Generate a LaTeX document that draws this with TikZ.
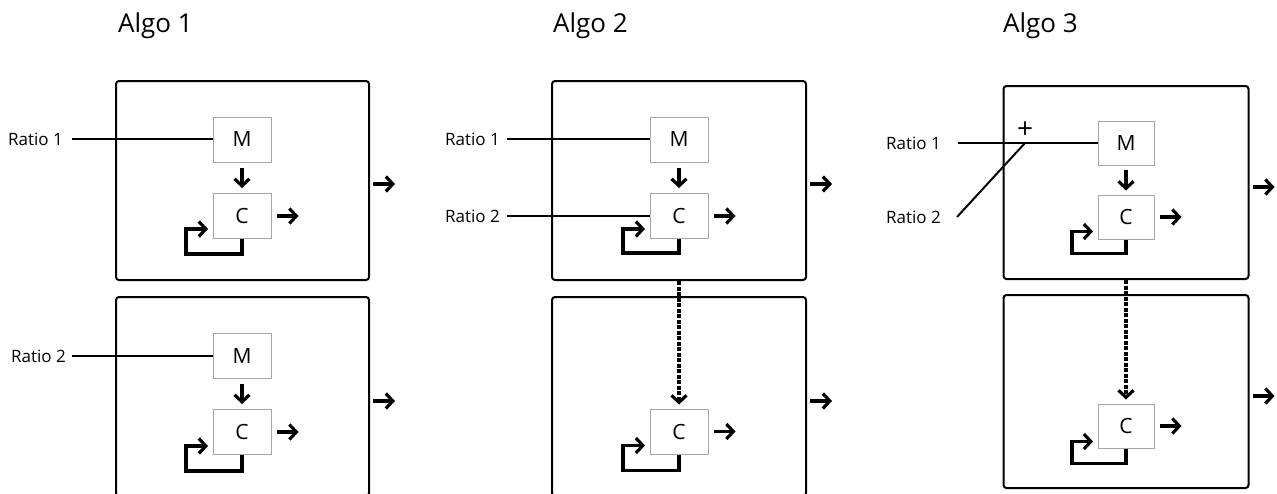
\documentclass[tikz,border=0pt]{standalone}
\usepackage{fontspec}
\setmainfont{Open Sans}
\usetikzlibrary{arrows.meta}

\tikzset{
  panel/.style={draw, line width=2pt, rounded corners=3pt, minimum width=253pt, minimum height=199pt, inner sep=0pt},
  blk/.style={draw=black!35, fill=white, line width=1pt, minimum width=58pt, minimum height=45pt, inner sep=0pt, font=\fontsize{21}{24}\selectfont},
  lbl/.style={inner sep=0pt, font=\fontsize{17}{20}\selectfont},
  ttl/.style={inner sep=0pt, font=\fontsize{26}{30}\selectfont},
  feed/.style={line width=2pt},
  flow/.style={-{Straight Barb[length=7pt,width=15pt,line width=3.2pt]}, line width=3.2pt},
  back/.style={-{Straight Barb[length=7pt,width=15pt,line width=3.2pt]}, line width=3.8pt},
  pass/.style={-{Straight Barb[length=7pt,width=15pt,line width=3.2pt]}, line width=3.4pt, dash pattern=on 4pt off 1.5pt},
}

\begin{document}
\begin{tikzpicture}[x=1pt,y=-1pt]
\useasboundingbox (0,0) rectangle (1277,493);
\clip (0,0) rectangle (1277,493);

\node[ttl, anchor=base west] (t1) at (118,32) {Algo 1};
\node[ttl, anchor=base west] (t2) at (553,32) {Algo 2};
\node[ttl, anchor=base west] (t3) at (1003,32) {Algo 3};

% Algo 1
\node[panel] (p1a) at (242.5,180.5) {};
\node[panel] (p1b) at (242.5,396.5) {};
\node[blk] (m1a) at (242,139.5) {M};
\node[blk] (c1a) at (242,216) {C};
\node[blk] (m1b) at (242,356) {M};
\node[blk] (c1b) at (242,432) {C};
\node[lbl, anchor=east] (r1a) at (63,139) {Ratio 1};
\node[lbl, anchor=east] (r1b) at (66,356) {Ratio 2};
\draw[feed, shorten <=9pt] (r1a.east) -- (r1a.east -| m1a.west);
\draw[feed, shorten <=6pt] (r1b) -- (m1b);
\draw[flow, shorten <=5pt, shorten >=5pt] (m1a) -- (c1a);
\draw[flow, shorten <=5pt, shorten >=5pt] (m1b) -- (c1b);
\draw[flow] ([xshift=5pt]c1a.east) -- ++(22,0);
\draw[flow] ([xshift=5pt]c1b.east) -- ++(22,0);
\draw[back] (c1a.south) -- ++(0,15) -- ++(-56,0) -- ++(0,-25) -- ++(22,0);
\draw[back] (c1b.south) -- ++(0,16) -- ++(-56,0) -- ++(0,-25) -- ++(22,0);
\draw[flow] ([xshift=3pt,yshift=-3.5pt]p1a.east) -- ++(22,0);
\draw[flow] ([xshift=3pt,yshift=-4.5pt]p1b.east) -- ++(22,0);

% Algo 2
\node[panel, minimum width=254pt] (p2a) at (679,180.5) {};
\node[panel, minimum width=254pt] (p2b) at (679,396.5) {};
\node[blk] (m2a) at (679,139.5) {M};
\node[blk] (c2a) at (679,216) {C};
\node[blk] (c2b) at (679,431.5) {C};
\node[lbl, anchor=east] (r2a) at (500,139) {Ratio 1};
\node[lbl, anchor=east] (r2b) at (500,216) {Ratio 2};
\draw[feed, shorten <=7pt] (r2a.east) -- (r2a.east -| m2a.west);
\draw[feed, shorten <=7pt] (r2b) -- (c2a);
\draw[flow, shorten <=5pt, shorten >=5pt] (m2a) -- (c2a);
\draw[pass, shorten >=4pt] (p2a.south) -- (c2b.north);
\draw[flow] ([xshift=5pt]c2a.east) -- ++(22,0);
\draw[flow] ([xshift=5pt]c2b.east) -- ++(22,0);
\draw[back] (c2a.south) -- ++(0,14) -- ++(-56,0) -- ++(0,-24) -- ++(22,0);
\draw[back] (c2b.south) -- ++(0,16) -- ++(-56,0) -- ++(0,-25) -- ++(22,0);
\draw[flow] ([xshift=3pt,yshift=-3.5pt]p2a.east) -- ++(22,0);
\draw[flow] ([xshift=3pt,yshift=-4.5pt]p2b.east) -- ++(22,0);

% Algo 3
\node[panel, minimum width=245pt, minimum height=193pt] (p3a) at (1126,182.5) {};
\node[panel, minimum width=245pt, minimum height=193pt] (p3b) at (1126,391.5) {};
\node[blk, minimum width=56pt, minimum height=44pt] (m3a) at (1126,143) {M};
\node[blk, minimum width=56pt, minimum height=44pt] (c3a) at (1126,217) {C};
\node[blk, minimum width=56pt, minimum height=44pt] (c3b) at (1126,426) {C};
\node[lbl, anchor=east] (r3a) at (941,143) {Ratio 1};
\node[lbl, anchor=east] (r3b) at (941,217) {Ratio 2};
\coordinate (j3) at (1025,143);
\node[inner sep=0pt, font=\fontsize{28}{30}\selectfont] (s3) at (1025,130) {+};
\draw[feed, shorten <=17pt] (r3a) -- (m3a);
\draw[feed] ([xshift=16pt]r3b.east) -- (j3);
\draw[flow, shorten <=4pt, shorten >=4pt] (m3a) -- (c3a);
\draw[pass, shorten >=4pt] (p3a.south) -- (c3b.north);
\draw[flow] ([xshift=5pt]c3a.east) -- ++(22,0);
\draw[flow] ([xshift=5pt]c3b.east) -- ++(22,0);
\draw[back] (c3a.south) -- ++(0,14) -- ++(-54,0) -- ++(0,-22) -- ++(21,0);
\draw[back] (c3b.south) -- ++(0,15) -- ++(-54,0) -- ++(0,-22) -- ++(21,0);
\draw[flow] ([xshift=3pt,yshift=-4.5pt]p3a.east) -- ++(22,0);
\draw[flow] ([xshift=3pt,yshift=-4.5pt]p3b.east) -- ++(22,0);
\end{tikzpicture}
\end{document}
